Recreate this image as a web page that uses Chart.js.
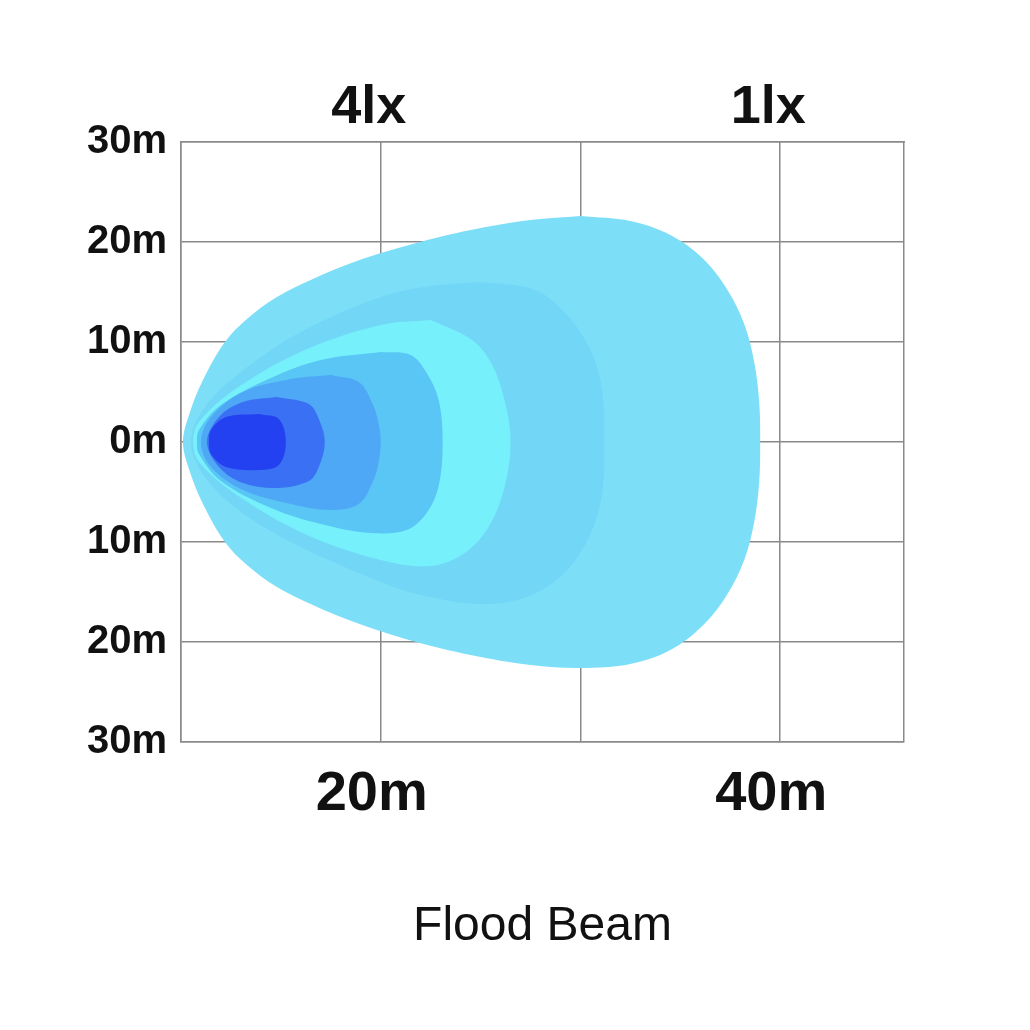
<!DOCTYPE html>
<html>
<head>
<meta charset="utf-8">
<title>Flood Beam</title>
<script src="https://cdn.jsdelivr.net/npm/chart.js@4.4.1/dist/chart.umd.min.js"></script>
<style>
  html, body { margin: 0; padding: 0; background: #fff; }
  #wrap { width: 1030px; height: 1030px; }
</style>
</head>
<body>
<div id="wrap"><canvas id="beamChart"></canvas></div>
<script>
// distance ahead (m) on x, lateral spread (m) on y
const xMin = 10;
const xMax = 46.2;
const bottomTickValues = [10, 20, 30, 40, 46.2];
const bottomTickLabels = ['', '20m', '', '40m', ''];
const topTickValues = [20, 40];
const topTickLabels = ['4lx', '1lx'];
const yTickValues = [-30, -20, -10, 0, 10, 20, 30];

// isolux contours, outermost first, each traced clockwise from its top
const contour1 = [[30,22.6],[32.5,22.1],[34.5,20.7],[36.1,18.4],[37.3,15.4],[38.2,11.8],[38.7,8],[38.95,4],[39,0],[38.95,-4],[38.7,-8],[38.2,-11.8],[37.3,-15.4],[36.1,-18.4],[34.5,-20.8],[32.5,-22.2],[30,-22.6],[27.5,-22.3],[24.5,-21.3],[21.6,-19.9],[18.8,-18.1],[16.6,-16.3],[14.8,-14.5],[13.3,-12.3],[12.2,-10],[11.1,-6.2],[10.45,-3],[10.1,0],[10.45,3],[11.1,6.2],[12.2,10],[13.3,12.3],[14.8,14.5],[16.6,16.3],[18.8,18.1],[21.6,19.8],[24.5,21.2],[27.5,22.2],[30,22.6]];
const contour2 = [[25,16],[27.6,15.3],[29.2,13],[30.5,9.2],[31.1,5],[31.2,0],[31.1,-5],[30.5,-9.2],[29.2,-13.1],[27.3,-15.5],[25,-16.2],[22,-15.3],[20,-14],[16,-10.5],[13,-7],[11.2,-3.5],[10.5,0],[11.2,3.5],[13,7],[16,11],[20,14.5],[22.5,15.6],[25,16]];
const contour3 = [[22.5,12.2],[24.5,10.3],[25.5,8],[26.2,4.2],[26.5,0],[26.2,-4.5],[25.4,-8.5],[24.2,-11.1],[22.5,-12.4],[20,-11.8],[16.2,-9.2],[12.8,-5.3],[10.9,-2],[10.6,0],[10.9,2],[12.8,5.4],[16.2,9.2],[20,11.7],[22.5,12.2]];
const contour4 = [[20,9],[21.5,8.7],[22.3,6.9],[22.9,4.2],[23.1,0],[22.9,-4.4],[22.3,-7.1],[21.3,-8.8],[19.5,-9.1],[17,-8.2],[14.5,-6.6],[12,-3.9],[10.9,-1.2],[10.8,0],[10.9,1.2],[12,3.7],[14.5,6.4],[17,8.2],[20,9]];
const contour5 = [[17.5,6.7],[18.9,6],[19.6,3.8],[19.9,1.8],[20,0],[19.9,-2],[19.6,-4],[18.9,-6.2],[17.5,-6.8],[15.5,-6.2],[13.1,-4.8],[11.5,-2.5],[11,0],[11.5,2.5],[13.1,5],[15.5,6.3],[17.5,6.7]];
const contour6 = [[14.8,4.5],[16.4,3.8],[16.9,2.3],[17.2,0],[16.9,-2.5],[16.4,-3.9],[14.8,-4.6],[13.1,-4.1],[11.9,-2.5],[11.3,0],[11.9,2.5],[13.1,4],[14.8,4.5]];
const contour7 = [[13.9,2.8],[14.9,2.3],[15.25,0],[14.9,-2.3],[13.9,-2.8],[12.25,-2.5],[11.5,-1.2],[11.4,0],[11.5,1.2],[12.25,2.5],[13.9,2.8]];

const contours = [contour1, contour2, contour3, contour4, contour5, contour6, contour7];
const contourColors = ['#7ddef8', '#72d7f7', '#76f0fa', '#5ac6f5', '#4ea8f6', '#3a70f3', '#2341f0'];

const gridColor = '#8a8a8a';
const labelColor = '#111';

const datasets = contours.map((pts, i) => ({
  data: pts.map(p => ({ x: p[0], y: p[1] })),
  showLine: true,
  fill: 'shape',
  backgroundColor: contourColors[i],
  borderWidth: 0,
  pointRadius: 0,
  pointHoverRadius: 0,
  tension: 0.35,
  order: contours.length - i // outer drawn first
}));

new Chart(document.getElementById('beamChart'), {
  type: 'scatter',
  data: { datasets },
  options: {
    responsive: true,
    maintainAspectRatio: false,
    animation: false,
    events: [],
    layout: { padding: { left: 0, right: 126, top: 0, bottom: 0 } },
    plugins: {
      legend: { display: false },
      tooltip: { enabled: false },
      title: {
        display: true,
        position: 'bottom',
        fullSize: false,
        text: 'Flood Beam',
        color: labelColor,
        font: { family: 'Liberation Sans, Arial, sans-serif', size: 48, weight: 'normal' },
        padding: { top: 0, bottom: 74 }
      }
    },
    scales: {
      x: {
        type: 'linear',
        position: 'bottom',
        min: xMin,
        max: xMax,
        z: 1,
        afterBuildTicks: s => { s.ticks = bottomTickValues.map(v => ({ value: v })); },
        afterFit: s => { s.height = 156.4; },
        ticks: {
          autoSkip: false,
          maxRotation: 0,
          padding: 19,
          labelOffset: -9,
          color: labelColor,
          font: { family: 'Liberation Sans, Arial, sans-serif', size: 56, weight: 'bold' },
          callback: (v, i) => bottomTickLabels[i]
        },
        grid: { color: gridColor, lineWidth: 1.5, drawTicks: false },
        border: { display: true, color: gridColor, width: 1.5 }
      },
      xTop: {
        type: 'linear',
        position: 'top',
        min: xMin,
        max: xMax,
        z: 1,
        afterBuildTicks: s => { s.ticks = topTickValues.map(v => ({ value: v })); },
        afterFit: s => { s.height = 142; },
        ticks: {
          autoSkip: false,
          maxRotation: 0,
          padding: 1,
          labelOffset: -12,
          color: labelColor,
          font: { family: 'Liberation Sans, Arial, sans-serif', size: 54, weight: 'bold' },
          callback: (v, i) => topTickLabels[i]
        },
        grid: { display: false, drawTicks: false },
        border: { display: true, color: gridColor, width: 1.5 }
      },
      y: {
        type: 'linear',
        min: -30,
        max: 30,
        z: 1,
        afterBuildTicks: s => { s.ticks = yTickValues.map(v => ({ value: v })); },
        afterFit: s => { s.width = 181; },
        ticks: {
          padding: 14,
          color: labelColor,
          font: { family: 'Liberation Sans, Arial, sans-serif', size: 40, weight: 'bold' },
          callback: v => Math.abs(v) + 'm'
        },
        grid: { color: gridColor, lineWidth: 1.5, drawTicks: false },
        border: { display: true, color: gridColor, width: 1.5 }
      }
    }
  }
});
</script>
</body>
</html>
